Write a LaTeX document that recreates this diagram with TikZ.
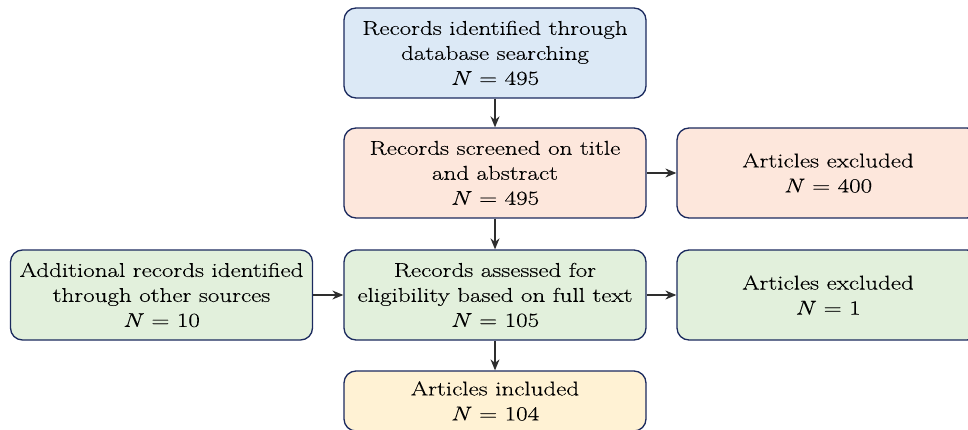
\documentclass[tikz,border=0pt]{standalone}
\usepackage{fontspec}
\setmainfont{Latin Modern Roman}[FakeStretch=1.25,FakeBold=0.25]
\usetikzlibrary{arrows.meta}

\definecolor{boxedge}{HTML}{1B2A5E}
\definecolor{arrowgray}{HTML}{2E2E2E}
\definecolor{idblue}{HTML}{DCE9F6}
\definecolor{screensalmon}{HTML}{FDE7DC}
\definecolor{eligiblegreen}{HTML}{E2F0DC}
\definecolor{inclyellow}{HTML}{FFF2D4}

\begin{document}
\begin{tikzpicture}[x=1pt,y=-1pt,
    box/.style={draw=boxedge, line width=1.3pt, rounded corners=12pt,
        minimum width=302pt, minimum height=90pt, inner sep=0pt,
        align=center, font=\fontsize{20}{25}\selectfont},
    arr/.style={-{Stealth[length=11pt,width=9pt]}, line width=1.3pt, draw=arrowgray}]
    \clip (0,0) rectangle (968,430);

    % main column
    \node[box, fill=idblue] (ident) at (495,53)
        {Records identified through\\database searching\\\textit{N} = 495};
    \node[box, fill=screensalmon] (screen) at (495,173)
        {Records screened on title\\and abstract\\\textit{N} = 495};
    \node[box, fill=eligiblegreen] (full) at (495,295)
        {Records assessed for\\eligibility based on full text\\\textit{N} = 105};
    \node[box, fill=inclyellow, minimum height=60pt] (incl) at (495,401)
        {Articles included\\\textit{N} = 104};

    % side boxes
    \node[box, fill=screensalmon] (excl1) at (828,173)
        {Articles excluded\\\textit{N} = 400};
    \node[box, fill=eligiblegreen] (excl2) at (828,295)
        {Articles excluded\\\textit{N} = 1};
    \node[box, fill=eligiblegreen] (other) at (161.5,295)
        {Additional records identified\\through other sources\\\textit{N} = 10};

    \begin{scope}[arr]
        \draw (ident) -- (screen);
        \draw (screen) -- (full);
        \draw (full) -- (incl);
        \draw (screen) -- (excl1);
        \draw (full) -- (excl2);
        \draw (other) -- (full);
    \end{scope}
\end{tikzpicture}
\end{document}
